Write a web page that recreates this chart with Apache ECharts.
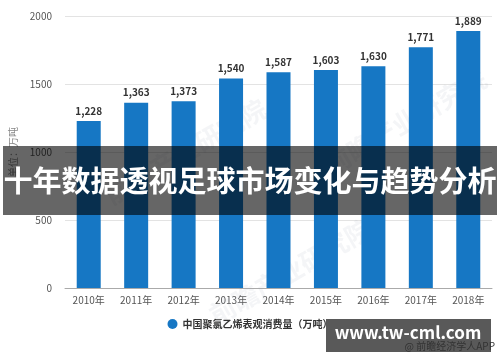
<!DOCTYPE html>
<html><head><meta charset="utf-8">
<script src="https://cdn.jsdelivr.net/npm/echarts@6/dist/echarts.min.js"></script>
<style>html,body{margin:0;padding:0;background:#fff}#c{width:500px;height:362px}</style>
</head><body><div id="c"></div>
<script>
var categories = ['2010年','2011年','2012年','2013年','2014年','2015年','2016年','2017年','2018年'];
var values = [1228,1363,1373,1540,1587,1603,1630,1771,1889];
var seriesName = '中国聚氯乙烯表观消费量（万吨）';
var yAxisName = '单位：万吨';
var bannerText = '十年数据透视足球市场变化与趋势分析';
var siteText = 'www.tw-cml.com';
var sourceText = '@ 前瞻经济学人APP';
var watermarkText = '前瞻产业研究院';

var chart = echarts.init(document.getElementById('c'), null, {renderer:'canvas'});
var font = '"Noto Sans CJK SC","Noto Sans",sans-serif';
chart.setOption({
  animation:false,
  textStyle:{fontFamily:font},
  grid:{left:57,right:8,top:16,bottom:74},
  legend:{
    data:[seriesName], bottom:28, left:'center', icon:'circle', itemWidth:10, itemHeight:10,
    textStyle:{fontSize:10,color:'#333',fontWeight:'bold',fontFamily:font}
  },
  xAxis:{
    type:'category', data:categories,
    axisLine:{lineStyle:{color:'#aaa'}},
    axisTick:{alignWithLabel:true,length:4,lineStyle:{color:'#aaa'}},
    axisLabel:{color:'#555',fontSize:10,margin:7}
  },
  yAxis:{
    type:'value', min:0, max:2000, interval:500,
    name:yAxisName, nameLocation:'middle', nameGap:47, nameRotate:90,
    nameTextStyle:{color:'#888',fontSize:10},
    axisLine:{show:false}, axisTick:{show:false},
    axisLabel:{color:'#555',fontSize:10,margin:13,formatter:function(v){return String(v);}},
    splitLine:{lineStyle:{color:'#e3e3e3'}}
  },
  series:[{
    name:seriesName, type:'bar', data:values, barWidth:24,
    itemStyle:{color:'#1677c4'},
    label:{show:true,position:'top',distance:5,color:'#333',fontWeight:'bold',fontSize:10,
      formatter:function(p){return p.value.toLocaleString('en-US');}}
  }],
  graphic:[
    {type:'text',left:100,top:95,rotation:Math.PI/6,z:1,silent:true,
      style:{text:watermarkText,fontSize:26,fontWeight:'bold',fill:'rgba(150,160,180,0.10)',fontFamily:font}},
    {type:'text',left:205,top:215,rotation:Math.PI/6,z:1,silent:true,
      style:{text:watermarkText,fontSize:26,fontWeight:'bold',fill:'rgba(150,160,180,0.10)',fontFamily:font}},
    {type:'text',left:320,top:65,rotation:Math.PI/6,z:1,silent:true,
      style:{text:watermarkText,fontSize:26,fontWeight:'bold',fill:'rgba(150,160,180,0.10)',fontFamily:font}},
    {type:'rect',z:100,shape:{x:3,y:146,width:494,height:69},style:{fill:'rgba(0,0,0,0.6)'}},
    {type:'text',z:101,x:250,y:181,style:{text:bannerText,fill:'#fff',fontSize:29,fontWeight:'bold',
      align:'center',verticalAlign:'middle',fontFamily:font}},
    {type:'rect',z:100,shape:{x:326,y:319,width:165,height:33},style:{fill:'rgba(60,60,60,0.85)'}},
    {type:'text',z:101,x:408,y:333,style:{text:siteText,fill:'#fff',fontSize:17,fontWeight:'bold',
      align:'center',verticalAlign:'middle',fontFamily:font}},
    {type:'text',z:102,x:495,y:346,style:{text:sourceText,fill:'#333',fontSize:10,
      align:'right',verticalAlign:'middle',fontFamily:font}}
  ]
});
</script></body></html>
